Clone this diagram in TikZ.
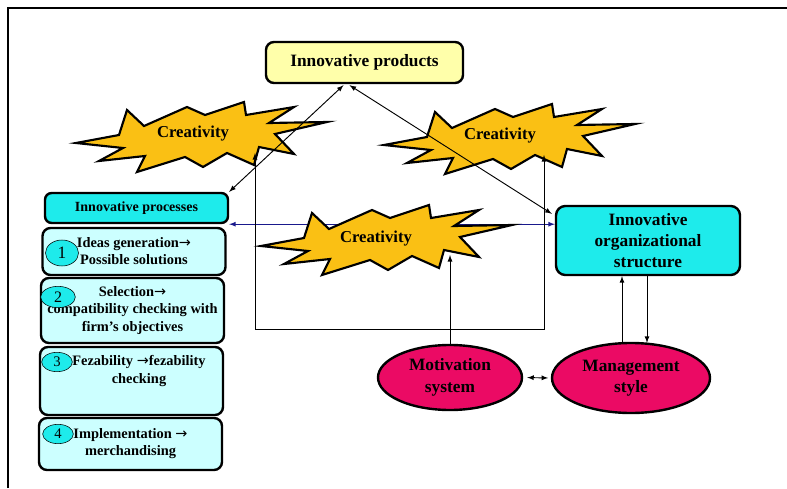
\documentclass[tikz,border=0pt]{standalone}
\usepackage{fontspec}
\setmainfont{Liberation Serif}
\newfontfamily\arrowfont{DejaVu Sans}
\usetikzlibrary{arrows}
\usetikzlibrary{shapes}
\usetikzlibrary{calc}
\definecolor{prodyellow}{RGB}{255,255,170}
\definecolor{boxcyan}{RGB}{30,235,235}
\definecolor{stepcyan}{RGB}{204,255,255}
\definecolor{burstgold}{RGB}{250,192,20}
\definecolor{ovalred}{RGB}{235,10,100}
\definecolor{linkblue}{RGB}{25,25,140}
\newcommand{\toarrow}{{\arrowfont\mdseries →}}
\tikzstyle{BigFont}=[font=\bfseries\fontsize{13}{16}\selectfont]
\tikzstyle{SmallFont}=[font=\bfseries\fontsize{10.8}{12.8}\selectfont]
\tikzstyle{ProdNode}=[rectangle, rounded corners=6pt, draw=black, line width=1.8pt, fill=prodyellow, BigFont, minimum width=147.75pt, minimum height=30.75pt]
\tikzstyle{ProcNode}=[rectangle, rounded corners=5pt, draw=black, line width=1.8pt, fill=boxcyan, font=\bfseries\fontsize{10.5}{12}\selectfont, minimum width=137.25pt, minimum height=22.5pt]
\tikzstyle{StepNode}=[rectangle, rounded corners=6pt, draw=black, line width=1.8pt, fill=stepcyan, SmallFont, align=center, minimum width=137.25pt, inner sep=2pt]
\tikzstyle{NumNode}=[ellipse, draw=black, thin, fill=boxcyan, inner sep=0pt, font=\fontsize{11}{11}\selectfont, minimum width=23pt, minimum height=14.5pt]
\tikzstyle{OrgNode}=[rectangle, rounded corners=7pt, draw=black, line width=1.8pt, fill=boxcyan, BigFont, align=center, minimum width=138pt, minimum height=51.75pt]
\tikzstyle{OvalNode}=[ellipse, draw=black, line width=1.8pt, fill=ovalred, BigFont, align=center, inner sep=0pt]
\tikzstyle{BurstShape}=[draw=black, line width=1.6pt, fill=burstgold, line join=miter]
\tikzstyle{BurstText}=[font=\bfseries\fontsize{12.5}{14}\selectfont]
\tikzstyle{LinkEdge}=[<->, line width=0.7pt]
\tikzstyle{UpEdge}=[->, line width=0.7pt]
\tikzstyle{BlueEdge}=[LinkEdge, linkblue]
\tikzstyle{FrameLine}=[line width=1.6pt]
\tikzset{>=latex}
\newcommand{\creativityburst}[2]{%
  \draw[BurstShape, shift={(#1,#2)}] (-123,6) -- (-80,-2) -- (-72,-27) -- (-55,-11) -- (-12,-30) -- (6,-22) -- (45,-35) -- (47,-22) -- (95,-30) -- (70,-14) -- (128,-15) -- (76,-3) -- (95,17) -- (60,10) -- (55,28) -- (28,16) -- (4,30) -- (-14,20) -- (-62,35) -- (-54,19) -- (-100,24) -- (-76,11) -- cycle;}

\begin{document}
\begin{tikzpicture}[x=0.75pt, y=-0.75pt]
\useasboundingbox (0,0) rectangle (787,488);
\draw[FrameLine] (8,488) -- (8,8) -- (787,8);

\node[ProdNode](Prod) at (364.5,62.5) {Innovative products};
\node[ProcNode](Proc) at (136.5,208) {Innovative processes};
\node[StepNode, minimum height=35.25pt](Step1) at (134,251.5) {Ideas generation\toarrow\\Possible solutions};
\node[StepNode, minimum height=48.75pt](Step2) at (132.5,310.5) {Selection\toarrow\\compatibility checking with\\firm’s objectives};
\node[StepNode, minimum height=51pt](Step3) at (131.5,381) {};
\node[SmallFont, align=center](Step3Text) at (139,371) {Fezability \toarrow fezability\\checking};
\node[StepNode, minimum height=39pt](Step4) at (130.5,444) {Implementation \toarrow\\merchandising};
\node[NumNode, font=\fontsize{13}{13}\selectfont, minimum width=24.75pt, minimum height=19.5pt](Num1) at (62,253) {1};
\node[NumNode, font=\fontsize{12}{12}\selectfont, minimum width=26pt, minimum height=16pt](Num2) at (58,297) {2};
\node[NumNode](Num3) at (57,362) {3};
\node[NumNode](Num4) at (58,434) {4};
\node[OrgNode](Org) at (648,240.5) {Innovative\\organizational\\structure};
\node[OvalNode, minimum width=108pt, minimum height=48.75pt](Mot) at (450,377.5) {Motivation\\system};
\node[OvalNode, minimum width=118.5pt, minimum height=52.5pt](Mgmt) at (631,378) {Management\\style};

\draw[BlueEdge] (Proc.south east) -- (Proc.south east -| Org.west);

\creativityburst{199}{137}
\creativityburst{507}{139}
\creativityburst{384}{240}
\node[BurstText](Crea1) at (193,134) {Creativity};
\node[BurstText](Crea2) at (500,136) {Creativity};
\node[BurstText](Crea3) at (376,239) {Creativity};

\coordinate (Burst1In) at (255,153);
\coordinate (Burst2In) at (544,155);
\coordinate (LoopL) at (255,329);
\coordinate (LoopR) at (544,329);
\coordinate (Burst3In) at (450,255);
\coordinate (MgmtUp) at ($(Mgmt.north)+(-9,0)$);
\coordinate (MgmtDown) at ($(Mgmt.north)+(16,1)$);

\draw[LinkEdge] (Burst1In) -- (LoopL) -- (LoopR) -- (Burst2In);
\draw[UpEdge] (Mot.north) -- (Burst3In);
\draw[LinkEdge] (Proc.north east) -- ($(Prod.south)+(-21,1)$);
\draw[LinkEdge] ($(Prod.south)+(-15,1)$) -- ($(Org.north west)+(-3,9)$);
\draw[LinkEdge, shorten <=3pt, shorten >=2pt] (Mot.east) -- (Mgmt.west);
\draw[UpEdge] (MgmtUp) -- (MgmtUp |- Org.south);
\draw[UpEdge] (MgmtDown |- Org.south) -- (MgmtDown);
\end{tikzpicture}
\end{document}
